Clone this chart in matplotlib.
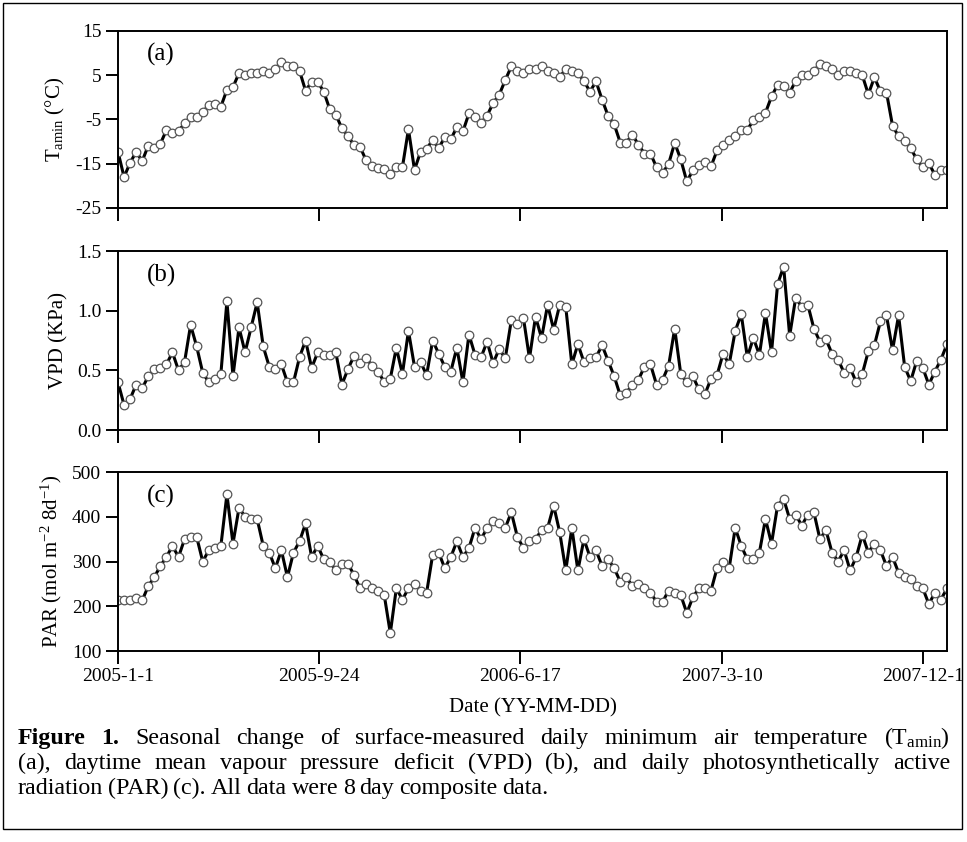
import matplotlib
matplotlib.use('Agg')
import matplotlib.pyplot as plt
import pandas as pd
from matplotlib.patches import Rectangle

plt.rcParams['font.family'] = ['Liberation Serif', 'DejaVu Serif']
plt.rcParams['mathtext.fontset'] = 'custom'
plt.rcParams['mathtext.rm'] = 'Liberation Serif'
plt.rcParams['mathtext.it'] = 'Liberation Serif:italic'
plt.rcParams['mathtext.bf'] = 'Liberation Serif:bold'

# ── data (8-day composites from 2005-01-01) ──────────────────────────────────
start_date = '2005-01-01'
n_points = 138

tamin = [-12.3, -18.0, -14.8, -12.3, -14.4, -10.9, -11.4, -10.5, -7.4, -8.0,
         -7.6, -5.9, -4.4, -4.5, -3.4, -1.7, -1.5, -2.1, 1.7, 2.3,
         5.5, 5.0, 5.5, 5.5, 6.0, 5.5, 6.5, 8.0, 7.0, 7.0,
         6.0, 1.5, 3.5, 3.5, 1.3, -2.7, -3.9, -7.0, -8.7, -10.8,
         -11.2, -14.2, -15.6, -15.9, -16.1, -17.3, -15.7, -15.8, -7.2, -16.4,
         -12.3, -11.7, -9.6, -11.5, -9.0, -9.5, -6.7, -7.7, -3.6, -4.5,
         -5.8, -4.1, -1.3, 0.6, 3.9, 7.0, 6.0, 5.5, 6.5, 6.5,
         7.0, 6.0, 5.5, 4.5, 6.5, 6.0, 5.5, 3.7, 1.3, 3.6,
         -0.5, -4.2, -6.1, -10.2, -10.2, -8.4, -10.7, -12.7, -12.7, -15.8,
         -17.1, -15.0, -10.3, -14.0, -19.0, -16.5, -15.2, -14.6, -15.6, -12.0,
         -10.8, -9.7, -8.8, -7.4, -7.3, -5.2, -4.4, -3.5, 0.2, 2.8,
         2.6, 1.1, 3.7, 5.0, 5.0, 6.0, 7.5, 7.0, 6.5, 5.0,
         6.0, 6.0, 5.5, 5.0, 0.7, 4.5, 1.4, 1.1, -6.4, -8.8,
         -9.9, -11.5, -14.0, -15.8, -14.9, -17.5, -16.3, -16.3]

vpd = [0.40, 0.21, 0.26, 0.38, 0.35, 0.45, 0.51, 0.52, 0.55, 0.65,
       0.50, 0.57, 0.88, 0.70, 0.48, 0.40, 0.43, 0.47, 1.08, 0.45,
       0.86, 0.65, 0.86, 1.07, 0.70, 0.53, 0.51, 0.55, 0.40, 0.40,
       0.61, 0.75, 0.52, 0.65, 0.63, 0.63, 0.65, 0.38, 0.51, 0.62,
       0.56, 0.60, 0.54, 0.49, 0.40, 0.43, 0.69, 0.47, 0.83, 0.53,
       0.57, 0.46, 0.75, 0.64, 0.53, 0.49, 0.69, 0.40, 0.80, 0.63,
       0.61, 0.74, 0.56, 0.68, 0.60, 0.92, 0.89, 0.94, 0.60, 0.95,
       0.77, 1.05, 0.84, 1.05, 1.03, 0.55, 0.72, 0.57, 0.60, 0.61,
       0.71, 0.58, 0.45, 0.29, 0.31, 0.38, 0.42, 0.53, 0.55, 0.38,
       0.42, 0.54, 0.85, 0.47, 0.40, 0.45, 0.34, 0.30, 0.43, 0.46,
       0.64, 0.55, 0.83, 0.97, 0.61, 0.77, 0.63, 0.98, 0.65, 1.22,
       1.37, 0.79, 1.11, 1.03, 1.05, 0.85, 0.74, 0.76, 0.64, 0.59,
       0.48, 0.52, 0.40, 0.47, 0.66, 0.71, 0.91, 0.96, 0.67, 0.96,
       0.53, 0.41, 0.58, 0.52, 0.38, 0.49, 0.59, 0.72]

par = [215, 215, 215, 218, 213, 245, 265, 290, 310, 335,
       310, 350, 355, 355, 300, 325, 330, 335, 450, 340,
       420, 400, 395, 395, 335, 320, 285, 325, 265, 320,
       345, 385, 310, 335, 305, 300, 280, 295, 295, 270,
       240, 250, 240, 235, 225, 140, 240, 215, 240, 250,
       235, 230, 315, 320, 285, 310, 345, 310, 330, 375,
       350, 375, 390, 385, 375, 410, 355, 330, 345, 350,
       370, 375, 425, 365, 280, 375, 280, 350, 310, 325,
       290, 305, 285, 255, 265, 245, 250, 240, 230, 210,
       210, 235, 230, 225, 185, 220, 240, 240, 235, 285,
       300, 285, 375, 335, 305, 305, 320, 395, 340, 425,
       440, 395, 405, 380, 405, 410, 350, 370, 320, 300,
       325, 280, 310, 360, 320, 340, 325, 290, 310, 275,
       265, 260, 245, 240, 205, 230, 215, 240]

tick_dates = ['2005-1-1', '2005-9-24', '2006-6-17', '2007-3-10', '2007-12-1']

dates = pd.date_range(start_date, periods=n_points, freq='8D')

# ── figure ───────────────────────────────────────────────────────────────────
W, H = 967, 842
fig = plt.figure(figsize=(W / 100, H / 100), dpi=100)
fig.patch.set_facecolor('white')

def px_axes(x0, y0, x1, y1):
    return fig.add_axes([x0 / W, 1 - y1 / H, (x1 - x0) / W, (y1 - y0) / H])

panels = [
    dict(y=(31, 208), data=tamin, lim=(-25, 15), ticks=[-25, -15, -5, 5, 15],
         fmt=lambda v: f'{v:g}', label='T$_{\\mathrm{amin}}$ (\u00b0C)', tag='(a)'),
    dict(y=(251, 430), data=vpd, lim=(0, 1.5), ticks=[0.0, 0.5, 1.0, 1.5],
         fmt=lambda v: f'{v:.1f}', label='VPD (KPa)', tag='(b)'),
    dict(y=(472, 651), data=par, lim=(100, 500), ticks=[100, 200, 300, 400, 500],
         fmt=lambda v: f'{v:g}', label='PAR (mol m$^{-2}$ 8d$^{-1}$)', tag='(c)'),
]

xt = pd.to_datetime(tick_dates)
for k, p in enumerate(panels):
    ax = px_axes(118, p['y'][0], 947, p['y'][1])
    ax.plot(dates, p['data'], color='black', lw=2.2, zorder=2,
            marker='o', ms=6.2, mfc='white', mec='#555555', mew=0.9)
    ax.set_ylim(*p['lim'])
    ax.set_xlim(dates[0], dates[-1])
    ax.set_yticks(p['ticks'])
    ax.set_yticklabels([p['fmt'](v) for v in p['ticks']], fontsize=14)
    ax.set_xticks(xt)
    if k == 2:
        ax.set_xticklabels(tick_dates, fontsize=14)
        ax.set_xlabel('Date (YY-MM-DD)', fontsize=15, labelpad=10)
    else:
        ax.set_xticklabels([])
    ax.tick_params(direction='out', length=9, width=1.4, pad=3)
    for s in ax.spines.values():
        s.set_linewidth(1.4)
    ax.set_ylabel(p['label'], fontsize=15, labelpad=6)
    ax.text(0.035, 0.93, p['tag'], transform=ax.transAxes, fontsize=18,
            ha='left', va='top')

# outer frame
fig.add_artist(Rectangle((3 / W, 1 - 829 / H), 959 / W, 826 / H,
                         transform=fig.transFigure, fill=False,
                         edgecolor='black', lw=1.0))

# ── caption (justified lines) ────────────────────────────────────────────────
cap_lines = [
    [('Figure 1.', 'bold'), ('Seasonal change of surface-measured daily minimum '
                            'air temperature (T$_{\\mathrm{amin}}$)', 'normal')],
    [('(a), daytime mean vapour pressure deficit (VPD) (b), and daily '
      'photosynthetically active', 'normal')],
    [('radiation (PAR) (c). All data were 8 day composite data.', 'normal')],
]
cap_left, cap_right = 18, 950
cap_y = [744, 769, 794]
cap_fs = 17.3

fig.canvas.draw()
renderer = fig.canvas.get_renderer()
for li, line in enumerate(cap_lines):
    words = []
    for txt, wt in line:
        for w in txt.split(' '):
            words.append((w, wt))
    arts = []
    widths = []
    for w, wt in words:
        t = fig.text(0, 1 - cap_y[li] / H, w, fontsize=cap_fs, fontweight=wt,
                     ha='left', va='baseline')
        arts.append(t)
        widths.append(t.get_window_extent(renderer).width)
    if li < len(cap_lines) - 1:
        gap = (cap_right - cap_left - sum(widths)) / (len(words) - 1)
    else:
        gap = 4.8
    x = cap_left
    for t, w in zip(arts, widths):
        t.set_x(x / W)
        x += w + gap

fig.savefig('out.png', dpi=100, facecolor='white')
